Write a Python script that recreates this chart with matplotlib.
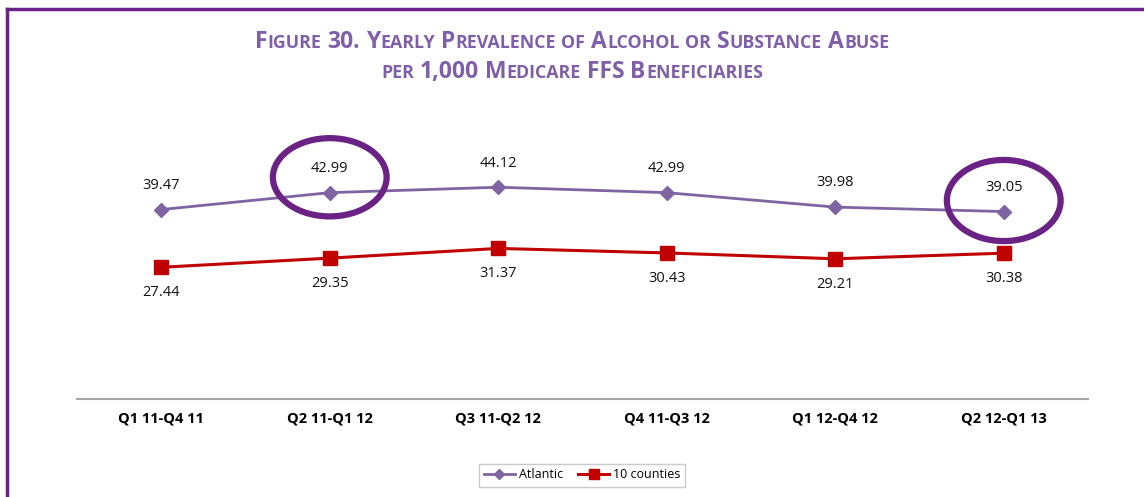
import matplotlib
matplotlib.use("Agg")
import matplotlib.pyplot as plt
from matplotlib.patches import Ellipse
from matplotlib.offsetbox import TextArea, HPacker, AnchoredOffsetbox

categories = ["Q1 11-Q4 11", "Q2 11-Q1 12", "Q3 11-Q2 12", "Q4 11-Q3 12", "Q1 12-Q4 12", "Q2 12-Q1 13"]
atlantic = [39.47, 42.99, 44.12, 42.99, 39.98, 39.05]
counties = [27.44, 29.35, 31.37, 30.43, 29.21, 30.38]
highlight_idx = [1, 5]

PURPLE = "#8064A2"
RED = "#C00000"
FRAME = "#6B2285"
TITLE_C = "#7F5FA8"

plt.rcParams['font.family'] = ['Open Sans', 'DejaVu Sans']

fig = plt.figure(figsize=(11.44, 4.97), dpi=100)
ax = fig.add_axes([77/1144, 1-399/497, (1088-77)/1144, 288/497])

x = list(range(len(categories)))
l1, = ax.plot(x, atlantic, color=PURPLE, lw=2, marker='D', ms=7, label='Atlantic', zorder=3)
l2, = ax.plot(x, counties, color=RED, lw=2.2, marker='s', ms=9.5, label='10 counties', zorder=3)

for xi, v in zip(x, atlantic):
    ax.annotate(f"{v:.2f}", (xi, v), xytext=(0, 12), textcoords='offset points',
                ha='center', va='bottom', fontsize=10.5, color='#111111')
for xi, v in zip(x, counties):
    ax.annotate(f"{v:.2f}", (xi, v), xytext=(0, -13), textcoords='offset points',
                ha='center', va='top', fontsize=10.5, color='#111111')

# highlight ellipses
offs = {1: (3.2, 16.3), 5: (2.3, 16.9)}
for i in highlight_idx:
    dy, h = offs[i]
    ax.add_patch(Ellipse((x[i], atlantic[i] + dy), 0.675, h, fill=False,
                         edgecolor=FRAME, lw=4.5, zorder=4))

ax.set_xlim(-0.5, len(categories) - 0.5)
ax.set_ylim(0, 60)
ax.set_xticks(x)
ax.set_xticklabels(categories, fontsize=10.5, fontweight='bold')
ax.tick_params(axis='x', length=0, pad=9)
ax.tick_params(axis='y', left=False, labelleft=False)
for s in ['top', 'right', 'left']:
    ax.spines[s].set_visible(False)
ax.spines['bottom'].set_color('#A6A6A6')
ax.spines['bottom'].set_linewidth(1.5)

# legend
fig.legend(handles=[l1, l2], loc='center', bbox_to_anchor=(582/1144, 1-475/497), ncol=2,
           fontsize=9, frameon=True, fancybox=False, edgecolor='#BFBFBF',
           handlelength=2.5, columnspacing=1.2, handletextpad=0.3, borderpad=0.4,
           markerscale=0.7)

# frame lines (top and left)
fig.add_artist(plt.Line2D([7/1144, 1], [1-9/497, 1-9/497], color=FRAME, lw=2.5, transform=fig.transFigure))
fig.add_artist(plt.Line2D([7/1144, 7/1144], [0, 1-9/497], color=FRAME, lw=2.5, transform=fig.transFigure))

# small-caps title
def smallcaps_line(words, big=16.5, small=12.8):
    parts = []
    for w in words:
        if w == ' ':
            parts.append(TextArea(' ', textprops=dict(fontsize=big, fontweight='bold', color=TITLE_C)))
            continue
        seg_kind = None
        buf = ''
        segs = []
        for ch in w:
            kind = 'big' if (ch.isupper() or ch.isdigit() or ch in ',.') else 'small'
            if kind != seg_kind and buf:
                segs.append((seg_kind, buf))
                buf = ''
            seg_kind = kind
            buf += ch
        if buf:
            segs.append((seg_kind, buf))
        for kind, txt in segs:
            parts.append(TextArea(txt.upper(), textprops=dict(
                fontsize=big if kind == 'big' else small, fontweight='bold', color=TITLE_C,
                family=['Open Sans', 'DejaVu Sans'])))
    return HPacker(children=parts, align='baseline', pad=0, sep=0)

line1 = "Figure 30. Yearly Prevalence of Alcohol or Substance Abuse"
line2 = "per 1,000 Medicare FFS Beneficiaries"

def tokens(s):
    out = []
    for i, w in enumerate(s.split(' ')):
        if i:
            out.append(' ')
        out.append(w)
    return out

for txt, yc in [(line1, 1-42/497), (line2, 1-72/497)]:
    box = smallcaps_line(tokens(txt))
    ab = AnchoredOffsetbox(loc='center', child=box, pad=0, frameon=False,
                           bbox_to_anchor=(572/1144, yc), bbox_transform=fig.transFigure,
                           borderpad=0)
    fig.add_artist(ab)

fig.savefig('out.png', dpi=100)
